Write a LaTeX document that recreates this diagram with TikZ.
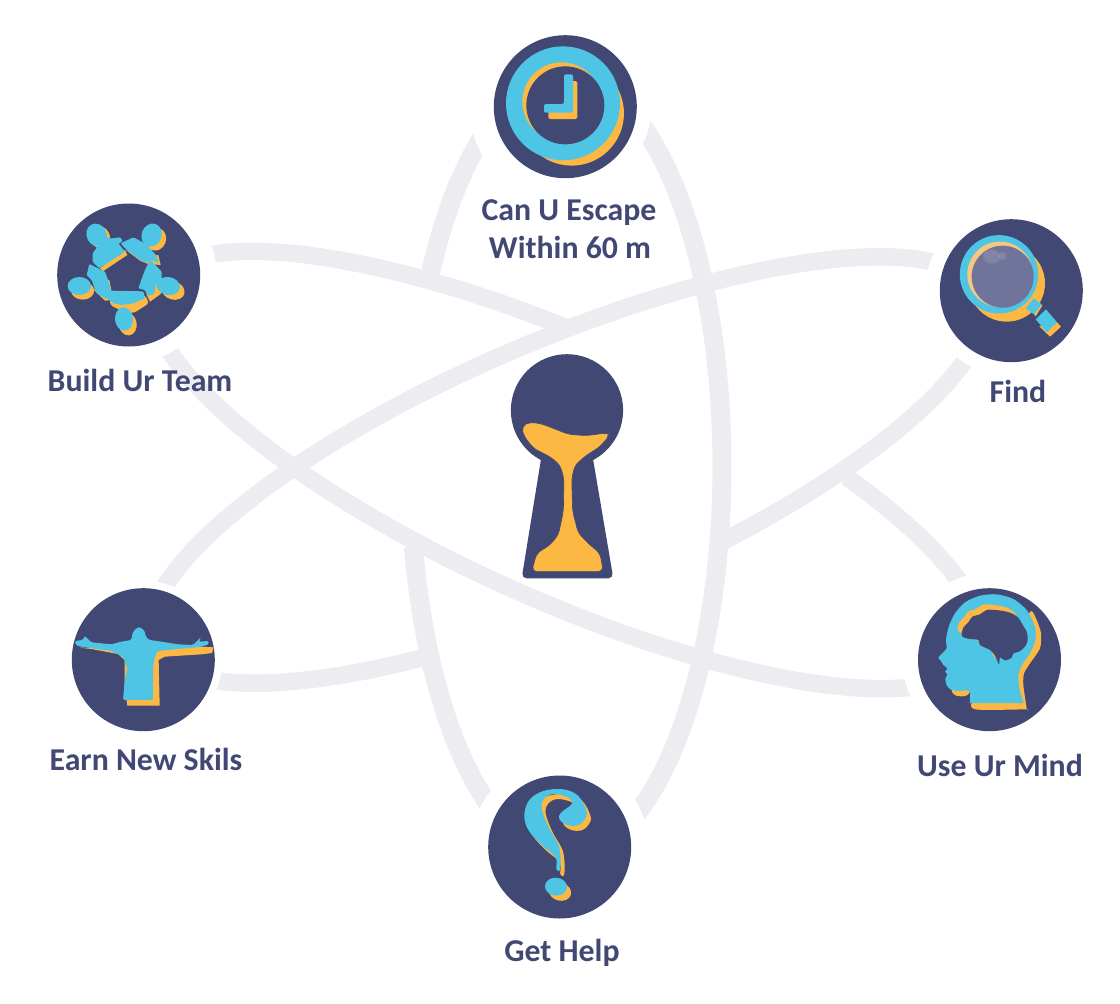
\documentclass[tikz,border=0pt]{standalone}
\usepackage{fontspec}
\setmainfont{Carlito}
\definecolor{navy}{HTML}{414874}
\definecolor{cyn}{HTML}{4FC5E5}
\definecolor{org}{HTML}{FDB843}
\definecolor{band}{HTML}{ECECF1}
\definecolor{lens}{HTML}{70749A}
\definecolor{palo}{HTML}{F8C77E}
\tikzset{
 orbit/.style={draw=band,line width=17.5pt,line cap=butt,line join=round},
 orbitv/.style={draw=band,line width=19pt,line cap=butt,line join=round},
 hub/.style={circle,fill=navy,minimum size=143pt,inner sep=0pt,outer sep=0pt},
 zm/.style 2 args={xshift=#1pt,yshift=-#2pt,x=0.33333pt,y=-0.33333pt},
 lab/.style={text=navy,anchor=base,inner sep=0pt,font=\fontsize{31.8}{36}\selectfont\bfseries},
 halo/.style={fill=white}
}
% arc of a tilted ellipse: style, cx, cy, A, B, phi, t0, t1
\newcommand{\orbarc}[8]{\draw[#1] plot[domain=#7:#8,samples=70,smooth,variable=\t] ({#2+#4*cos(\t)*cos(#6)-#5*sin(\t)*sin(#6)},{#3+#4*cos(\t)*sin(#6)+#5*sin(\t)*cos(#6)});}
\newcommand{\qmshape}[1]{\fill[#1] plot[smooth cycle,tension=.6] coordinates {(118,135)(133,90)(175,63)(235,58)(280,78)(305,125)(298,150)(278,166)(250,166)(228,154)(222,138)(235,122)(255,108)(262,95)(245,80)(205,72)(178,85)(170,115)(190,170)(222,230)(226,296)(214,298)(212,262)(170,225)(130,180)};}
\newcommand{\brainshape}[1]{\fill[#1] plot[smooth cycle,tension=.5] coordinates {(140,150)(145,128)(160,112)(172,95)(195,88)(215,75)(240,75)(265,78)(290,85)(310,98)(322,118)(335,140)(338,165)(330,185)(312,200)(295,205)(290,218)(270,226)(255,218)(252,238)(240,212)(225,195)(195,180)(190,165)(165,162)(148,158)};}
\begin{document}
\begin{tikzpicture}[x=1pt,y=-1pt]
\useasboundingbox (0,0) rectangle (1120,1004);
% orbit bands
\orbarc{orbitv}{566}{466}{390}{156}{90}{118}{165}
\fill[halo] (565.3,106.7) circle[radius=96pt];
\orbarc{orbitv}{566}{466}{390}{156}{90}{195}{345}
\orbarc{orbitv}{566}{466}{390}{156}{90}{15}{78}
\orbarc{orbit}{567}{470}{450}{131}{24}{185}{263}
\orbarc{orbit}{567}{470}{450}{131}{24}{5}{175}
\orbarc{orbit}{567}{470}{450}{131}{24}{305}{355}
\orbarc{orbit}{567}{470}{450}{131}{-23}{185}{355}
\orbarc{orbit}{567}{470}{450}{131}{-23}{5}{75}
\orbarc{orbit}{567}{470}{450}{131}{-23}{117}{175}
% halos
\foreach \cx/\cy/\rr in {565.3/106.7/86,128.7/275/88,1011.3/290.7/86,989.5/659.7/87,559.7/847/89,143.3/659.7/79}
  \fill[halo] (\cx,\cy) circle[radius=\rr pt];
% hubs
\node[hub] (clock) at (565.3,106.7) {};
\node[hub] (team) at (128.7,275) {};
\node[hub] (find) at (1011.3,290.7) {};
\node[hub] (mind) at (989.5,659.7) {};
\node[hub] (help) at (559.7,847) {};
\node[hub] (earn) at (143.3,659.7) {};
% clock
\begin{scope}[zm={490}{30}]
\fill[org] (245,250) circle[radius=52.3pt];
\fill[cyn] (219,220) circle[radius=57pt];
\fill[org] (215,215) circle[radius=39.3pt];
\fill[navy] (226,226) circle[radius=39pt];
\fill[org,rounded corners=2pt] (237,153)--(262,153)--(262,267)--(175,267)--(175,245)--(237,245)--cycle;
\fill[cyn,rounded corners=2pt] (222,133)--(249,133)--(249,248)--(162,248)--(162,222)--(222,222)--cycle;
\end{scope}
% team
\begin{scope}[zm={50}{200}]
\begin{scope}[org]
\fill (150,112) ellipse[x radius=10pt,y radius=11.5pt,rotate=25];
\fill (318,118) ellipse[x radius=10pt,y radius=11.5pt,rotate=-20];
\fill (370,272) ellipse[x radius=11.5pt,y radius=9pt,rotate=-15];
\fill (233,372) ellipse[x radius=9pt,y radius=11.5pt,rotate=10];
\fill (98,272) ellipse[x radius=11.5pt,y radius=9pt];
\fill (150,205)--(225,150)--(232,165)--(160,213)--cycle;
\fill (228,150)--(270,182)--(295,192)--(332,195)--(325,165)--(290,170)--cycle;
\fill (300,305)--(332,282)--(342,250)--(310,240)--(290,285)--cycle;
\fill[rounded corners=3pt] (180,315)--(205,328)--(250,340)--(297,310)--(285,285)--(180,290)--cycle;
\fill (132,270)--(165,302)--(190,300)--(178,240)--(160,240)--cycle;
\end{scope}
\begin{scope}[cyn,rounded corners=1pt]
\fill (140,105) ellipse[x radius=10pt,y radius=11.7pt,rotate=25];
\fill (305,105) ellipse[x radius=10pt,y radius=11.7pt,rotate=-20];
\fill (355,258) ellipse[x radius=11.7pt,y radius=9pt,rotate=-10];
\fill (222,357) ellipse[x radius=9pt,y radius=11.7pt,rotate=5];
\fill (88,258) ellipse[x radius=11.7pt,y radius=9pt];
\fill (165,105)--(178,116)--(212,112)--(218,125)--(205,130)--(225,155)--(148,205)--(128,185)--(128,160)--(150,130)--cycle;
\fill (212,130)--(250,112)--(285,130)--(318,165)--(328,190)--(300,178)--(290,188)--(270,180)--(225,145)--cycle;
\fill (300,178)--(335,215)--(335,238)--(318,252)--(312,282)--(292,288)--(285,270)--(265,265)--(283,215)--cycle;
\fill (180,272)--(280,274)--(285,295)--(250,310)--(215,315)--(190,310)--(170,295)--cycle;
\fill (118,192)--(165,215)--(178,250)--(187,295)--(165,295)--(138,278)--(125,240)--(110,225)--cycle;
\end{scope}
\end{scope}
% magnifier
\begin{scope}[zm={935}{215}]
\fill[org] (215,205) circle[radius=38.3pt];
\fill[cyn] (192,178) circle[radius=39.2pt];
\fill[palo] (195,178) circle[radius=32.7pt];
\fill[lens] (203,185) circle[radius=31pt];
\fill[white,opacity=.12] (170,125) ellipse[x radius=8.5pt,y radius=7pt];
\fill[white,opacity=.12] (203,123) ellipse[x radius=4pt,y radius=4pt];
\fill[org] (288,285)--(310,262)--(322,272)--(302,304)--cycle;
\fill[cyn] (297,250)--(320,268)--(297,298)--(272,280)--cycle;
\fill[org] (313,334)--(366,322)--(378,335)--(345,365)--cycle;
\fill[cyn] (302,313)--(333,283)--(366,322)--(335,352)--cycle;
\end{scope}
% head
\begin{scope}[zm={915}{585}]
\fill[org] plot[smooth cycle,tension=.4] coordinates {(345,80)(365,105)(378,145)(375,190)(345,235)(327,265)(325,300)(335,372)(332,373)(180,373)(178,340)(300,200)};
\fill[org,rounded corners=3pt] (108,315)--(118,332)--(150,335)--(165,325)--(165,300)--(110,300)--cycle;
\fill[cyn] plot[smooth cycle,tension=.45] coordinates {(70,218)(82,205)(95,190)(93,170)(95,150)(103,120)(120,85)(150,52)(195,32)(245,28)(295,42)(335,75)(358,120)(362,160)(348,200)(322,238)(310,270)(313,310)(325,353)(322,354)(170,354)(165,352)(163,318)(125,318)(105,312)(95,300)(91,282)(97,268)(90,260)(97,250)(85,240)(78,228)};
\begin{scope}[xshift=-4pt,yshift=5.3pt]\brainshape{org}\end{scope}
\brainshape{navy}
\end{scope}
% question mark
\begin{scope}[zm={485}{770}]
\begin{scope}[xshift=4pt,yshift=-5pt]\qmshape{org}\end{scope}
\fill[org] (225,365) ellipse[x radius=11.3pt,y radius=9pt,rotate=-15];
\qmshape{cyn}
\fill[cyn] (213,350) ellipse[x radius=11pt,y radius=9pt,rotate=-5];
\end{scope}
% person
\begin{scope}[zm={68}{585}]
\fill[org] (35,188)--(70,192)--(150,207)--(170,225)--(170,300)--(178,362)--(275,362)--(272,225)--(290,215)--(400,208)--(432,204)--(437,187)--(400,185)--(380,185)--(300,190)--(260,200)--(150,190)--cycle;
\fill[cyn,rounded corners=1.5pt] (212,125)--(228,135)--(235,158)--(245,165)--(280,170)--(330,178)--(375,180)--(400,155)--(392,170)--(422,168)--(422,178)--(395,186)--(330,192)--(270,198)--(262,208)--(255,250)--(255,345)--(165,345)--(170,290)--(178,250)--(165,215)--(130,198)--(60,188)--(25,182)--(20,168)--(45,165)--(50,152)--(70,172)--(130,178)--(160,170)--(190,165)--(195,140)--cycle;
\end{scope}
% keyhole
\begin{scope}[zm={500}{345}]
\node[circle,fill=navy,minimum size=112.3pt,inner sep=0pt] (kh) at (201,196) {};
\fill[navy,rounded corners=5pt] (125,330)--(65,700)--(340,700)--(277,330)--cycle;
\fill[org,draw=navy,line width=.6pt,rounded corners=5pt] (65,245)--(85,232)--(120,235)--(160,250)--(205,268)--(260,272)--(325,263)--(330,270)--(300,305)--(260,330)--(225,360)--(215,400)--(218,500)--(235,565)--(270,600)--(300,625)--(310,680)--(95,680)--(110,625)--(150,600)--(175,570)--(190,500)--(192,400)--(180,360)--(150,335)--(100,310)--(70,270)--cycle;
\end{scope}
% labels
\node[lab] (l1) at (569,220) {Can U Escape};
\node[lab] (l2) at (570,258) {Within 60 m};
\node[lab] (l3) at (140,391) {Build Ur Team};
\node[lab] (l4) at (1018,402) {Find};
\node[lab] (l5) at (1000,776) {Use Ur Mind};
\node[lab] (l6) at (562,961) {Get Help};
\node[lab] (l7) at (146,770) {Earn New Skils};
\end{tikzpicture}
\end{document}
